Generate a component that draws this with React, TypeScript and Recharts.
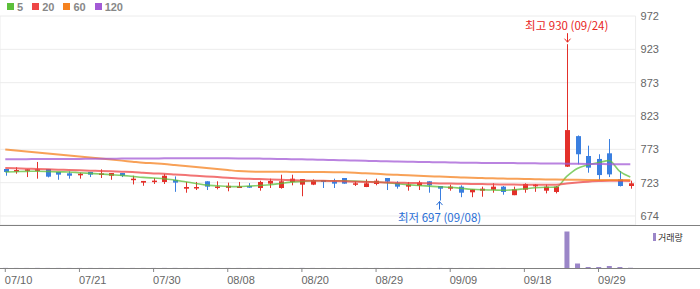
import React from 'react';
import { ComposedChart, Bar, Line, XAxis, YAxis, CartesianGrid, ReferenceDot } from 'recharts';

const dates = [
  '07/10','07/11','07/14','07/15','07/16','07/17','07/18','07/21','07/22','07/23','07/24','07/25','07/28','07/29','07/30','07/31',
  '08/01','08/04','08/05','08/06','08/07','08/08','08/11','08/12','08/13','08/14','08/18','08/19','08/20','08/21','08/22','08/25','08/26','08/27','08/28','08/29',
  '09/01','09/02','09/03','09/04','09/05','09/08','09/09','09/10','09/11','09/12','09/15','09/16','09/17','09/18','09/19','09/22','09/23','09/24','09/25','09/26','09/29','09/30',
  '10/01','10/02',
];
const tickLabels = ['07/10','07/21','07/30','08/08','08/20','08/29','09/09','09/18','09/29'];

const opens = [744,741,741.5,741.5,744,739.6,737.6,734.6,739.6,736,734,738,727.6,723.7,724.7,724.7,727.6,714.7,715.7,725.7,716,716,715.7,718.7,715.7,722.2,715.7,724.7,720.7,720.7,727.6,725.7,730.6,720.7,717.2,721.7,730.6,723.7,717.7,719.2,725.7,718.7,714.7,717.7,709.3,711.7,713.2,717.7,705,713.2,718.2,711.7,709.8,747.5,793,763.4,759,767.4,728.7,718.7];
const highs = [744,746.6,743.5,754.5,744,739.6,740.6,738.5,739.6,743.5,738,738,734,726.2,730.6,736.6,733,724.7,724.7,725.7,725.7,723.7,724.7,723,726.6,729.6,735.5,735.5,729,728.6,727.6,729.6,730.6,725.7,728.6,729.6,730.6,725.7,724.7,726.6,725.7,718.7,720.7,719.7,713.7,717.7,722.7,718.7,717.7,722.7,721.7,720.7,718.7,930,794,778.8,766,788.7,741,726.6];
const lows = [734,737,732,729.6,731.5,728,729.6,729.6,732,730.6,728,732,721,719,721.7,721.7,710,708.7,712.7,712.7,713.7,710.8,715.7,716,711.7,715.7,714.7,719.7,703.4,720,715.7,715.7,722,718.7,717,719.7,712.7,714.7,711.7,712.7,708.7,697,711.7,702,702,702.7,708.7,705.7,705,708.7,710,707.7,707.7,747,751,738.5,727.6,732,718,714.7];
const closes = [739.6,742.5,743.5,743.5,732.6,735.6,734,737,735.6,737.5,738,734,729.6,726.2,726.7,734,723.7,717.2,717.2,717.7,718,719,718.2,716.2,724.7,726.2,725.7,729.6,729,727.6,724.7,722.2,722.2,722.7,722.7,726.6,725.2,717.7,720.7,723.7,719.7,714.7,717.7,708.7,713.7,714.7,717.7,709.8,713.7,721.7,720.7,717.7,717.7,802,766,746,735,736,718.7,722.7];
const volumes = [0.3,0.2,0.2,0.3,0.2,0.2,0.2,0.2,0.2,0.2,0.2,0.2,0.2,0.2,0.2,0.3,0.3,0.2,0.2,0.2,0.2,0.2,0.2,0.2,0.2,0.2,0.2,0.2,0.3,0.2,0.2,0.2,0.2,0.2,0.2,0.2,0.2,0.2,0.2,0.2,0.2,0.3,0.2,0.2,0.2,0.2,0.2,0.2,0.2,0.2,0.2,0.2,0.2,100,12,2.8,2.8,5.5,2.8,0.6];

const ma5 = [739.6,740,740.5,740.6,740.3,739.8,739.6,738.5,737.5,736.6,735.5,734.5,733,731.5,730.5,729.6,727.5,725,722.5,720,719,718,717.7,718.5,719.5,720.5,722.5,724.5,725.5,726.5,726.6,726.6,726.5,726,725.5,724.7,723.5,722,720.7,719.5,718.5,717.5,716.8,715.3,713.8,713,712.7,712.3,713,714.5,716,716.8,717,733,744.8,750,753.5,756.5,740.5,732];
const ma20 = [745.5,745,744.5,744,743.5,743,742.5,742,741.5,741,740.5,740,739.5,738.5,737.5,737,736,735,734,733,732,731,730,729.5,729,728.5,728,727.5,727,726.6,726.4,726,725.6,725.2,724.8,724.3,724,723.6,723.3,723,722.8,722.5,722.3,722,721.7,721.5,721.2,721,720.8,720.7,720.6,720.6,720.7,722.5,724,725.2,726,726.6,726.5,726.2];
const ma60 = [773,771.5,770,768.5,767,765.5,764,762.5,761,759.5,758,756.5,755,753.5,752.5,751.5,750,748.5,747,745.5,744,742.5,741,740.2,740,739.8,739.8,739.7,739.6,739.6,739.5,739.3,739,738.4,737.6,736.8,736,735.3,734.6,734,733.3,732.7,732,731.4,730.8,730.5,730.2,729.8,729.5,729.2,728.8,728.5,728.2,728,727.9,727.8,727.7,727.6,727.6,727.6];
const ma120 = [758.5,758.6,758.7,758.8,758.9,759,759,759.1,759.2,759.3,759.4,759.5,759.6,759.7,759.8,759.9,760,760,760,760,760,759.9,759.8,759.7,759.5,759.3,759,758.7,758.4,758,757.7,757.3,757,756.6,756.2,755.8,755.5,755.2,754.9,754.6,754.3,754,753.8,753.5,753.3,753.1,753,752.9,752.8,752.7,752.5,752.3,752.1,752,751.8,751.6,751.4,751.2,751.1,751];

const yTickValues = [674, 723.67, 773.33, 823, 872.67, 922.33, 972];
const yTickLabels = ['674', '723', '773', '823', '873', '923', '972'];
const priceDomain: [number, number] = [660.58, 972];
const volumeDomain: [number, number] = [0, 115];

const highMark = { date: '09/24', price: 930, label: '최고 930 (09/24)' };
const lowMark = { date: '09/08', price: 697, label: '최저 697 (09/08)' };

const maSeries = [
  { key: 'ma5', name: '5', color: '#5cbf3a', values: ma5, width: 1.6 },
  { key: 'ma20', name: '20', color: '#ee4646', values: ma20, width: 2 },
  { key: 'ma60', name: '60', color: '#f5821f', values: ma60, width: 2 },
  { key: 'ma120', name: '120', color: '#a35ad6', values: ma120, width: 2 },
];

const UP = '#e3302a';
const DOWN = '#3a7fe0';
const VOL = '#9b86c8';
const FONT = '"Liberation Sans", Arial, sans-serif';
const KFONT = '"Noto Sans CJK KR", "Noto Sans", sans-serif';

const data = dates.map((d, i) => {
  const row: any = {
    i,
    date: d,
    range: [lows[i], highs[i]],
    open: opens[i],
    high: highs[i],
    low: lows[i],
    close: closes[i],
    vol: volumes[i],
  };
  maSeries.forEach((s) => { row[s.key] = s.values[i]; });
  return row;
});

const tickIdx = tickLabels.map((l) => dates.indexOf(l));
const xDomain: [number, number] = [-0.5, dates.length - 0.5];

const Candle = (props: any) => {
  const { x, y, width, height, payload } = props;
  if (!payload || height == null) return null;
  const { open, close, high, low } = payload;
  const color = close >= open ? UP : DOWN;
  const ratio = height / (high - low);
  const py = (p: number) => y + (high - p) * ratio;
  const cx = Math.round(x + width / 2);
  const top = py(Math.max(open, close));
  const bot = py(Math.min(open, close));
  return (
    <g>
      <line x1={cx + 0.5} x2={cx + 0.5} y1={y} y2={y + height} stroke={color} strokeWidth={1} />
      <rect x={cx - 2} y={top} width={5} height={Math.max(bot - top, 1.5)} fill={color} />
    </g>
  );
};

const HighLabel = (props: any) => {
  const { cx, cy } = props;
  if (cx == null || cy == null) return null;
  const c = Math.round(cx) + 0.5;
  return (
    <g>
      <line x1={c} x2={c} y1={cy - 11} y2={cy - 2} stroke="#e8261e" strokeWidth={1} />
      <polyline points={`${c - 3},${cy - 5.5} ${c},${cy - 2} ${c + 3},${cy - 5.5}`} fill="none" stroke="#e8261e" strokeWidth={1} />
      <text x={cx} y={cy - 18} dy="0.36em" textAnchor="middle" fill="#e8261e" fontSize={11.5} fontFamily={KFONT}>{highMark.label}</text>
    </g>
  );
};

const LowLabel = (props: any) => {
  const { cx, cy } = props;
  if (cx == null || cy == null) return null;
  const c = Math.round(cx) - 0.5;
  return (
    <g>
      <line x1={c} x2={c} y1={cy + 1} y2={cy + 9} stroke="#2a6fd6" strokeWidth={1} />
      <polyline points={`${c - 3},${cy + 4.5} ${c},${cy + 1} ${c + 3},${cy + 4.5}`} fill="none" stroke="#2a6fd6" strokeWidth={1} />
      <text x={cx} y={cy + 17.7} dy="0.36em" textAnchor="middle" fill="#2a6fd6" fontSize={11.5} fontFamily={KFONT}>{lowMark.label}</text>
    </g>
  );
};

const DateTick = (props: any) => {
  const { x, y, payload } = props;
  return (
    <text x={x - 0.5} y={y} dy="0.71em" textAnchor="start" fill="#666" fontSize={11} fontFamily={FONT}>
      {dates[payload.value]}
    </text>
  );
};

export default function App() {
  return (
    <div style={{ position: 'absolute', left: 0, top: 0, width: 700, height: 289, background: '#fff', overflow: 'hidden' }}>
      <div style={{ position: 'absolute', left: 7, top: 0, height: 13, display: 'flex', alignItems: 'center', fontFamily: FONT, fontSize: 11, fontWeight: 'bold', color: '#888' }}>
        {maSeries.map((s) => (
          <div key={s.key} style={{ display: 'flex', alignItems: 'center', marginRight: 9 }}>
            <span style={{ display: 'inline-block', width: 7, height: 7, background: s.color, marginRight: 3 }} />
            <span>{s.name}</span>
          </div>
        ))}
      </div>

      <div style={{ position: 'absolute', left: 0, top: 0 }}>
        <ComposedChart width={700} height={225} data={data} margin={{ top: 16, right: 0, left: 0, bottom: 0 }}>
          <CartesianGrid stroke="#ececec" strokeWidth={1} />
          <XAxis type="number" dataKey="i" domain={xDomain} ticks={tickIdx} height={0} tick={false} axisLine={false} tickLine={false} allowDataOverflow />
          <YAxis
            orientation="right"
            width={64.4}
            domain={priceDomain}
            ticks={yTickValues}
            tickFormatter={(v: number) => yTickLabels[yTickValues.indexOf(v)]}
            axisLine={false}
            tickLine={false}
            tickSize={0}
            tickMargin={5}
            tick={{ fill: '#666', fontSize: 11, fontFamily: FONT, textAnchor: 'start' }}
            allowDataOverflow
            interval={0}
          />
          <Bar dataKey="range" shape={<Candle />} barSize={5} isAnimationActive={false} />
          {maSeries.map((s) => (
            <Line key={s.key} type="monotone" dataKey={s.key} stroke={s.color} strokeWidth={s.width} strokeOpacity={0.75} dot={false} activeDot={false} isAnimationActive={false} />
          ))}
          <ReferenceDot x={dates.indexOf(highMark.date)} y={highMark.price} r={0} shape={<HighLabel />} ifOverflow="visible" />
          <ReferenceDot x={dates.indexOf(lowMark.date)} y={lowMark.price} r={0} shape={<LowLabel />} ifOverflow="visible" />
        </ComposedChart>
      </div>

      <div style={{ position: 'absolute', left: 0, top: 225 }}>
        <ComposedChart width={700} height={64} data={data} margin={{ top: 1, right: 64.4, left: 0, bottom: 0 }}>
          <XAxis
            type="number"
            dataKey="i"
            domain={xDomain}
            ticks={tickIdx}
            interval={0}
            height={21}
            axisLine={false}
            tickSize={4}
            tickMargin={4}
            tickLine={{ stroke: '#888' }}
            tick={<DateTick />}
            allowDataOverflow
          />
          <YAxis hide domain={volumeDomain} />
          <Bar dataKey="vol" fill={VOL} barSize={5} isAnimationActive={false} />
        </ComposedChart>
      </div>

      <div style={{ position: 'absolute', left: 0, top: 225, width: 700, height: 1, background: '#808080' }} />
      <div style={{ position: 'absolute', left: 0, top: 268, width: 700, height: 1, background: '#808080' }} />

      <div style={{ position: 'absolute', left: 653, top: 232, height: 10, display: 'flex', alignItems: 'center', fontFamily: KFONT, fontSize: 9, color: '#333' }}>
        <span style={{ display: 'inline-block', width: 3, height: 8, background: VOL, marginRight: 2 }} />
        <span>거래량</span>
      </div>
    </div>
  );
}
